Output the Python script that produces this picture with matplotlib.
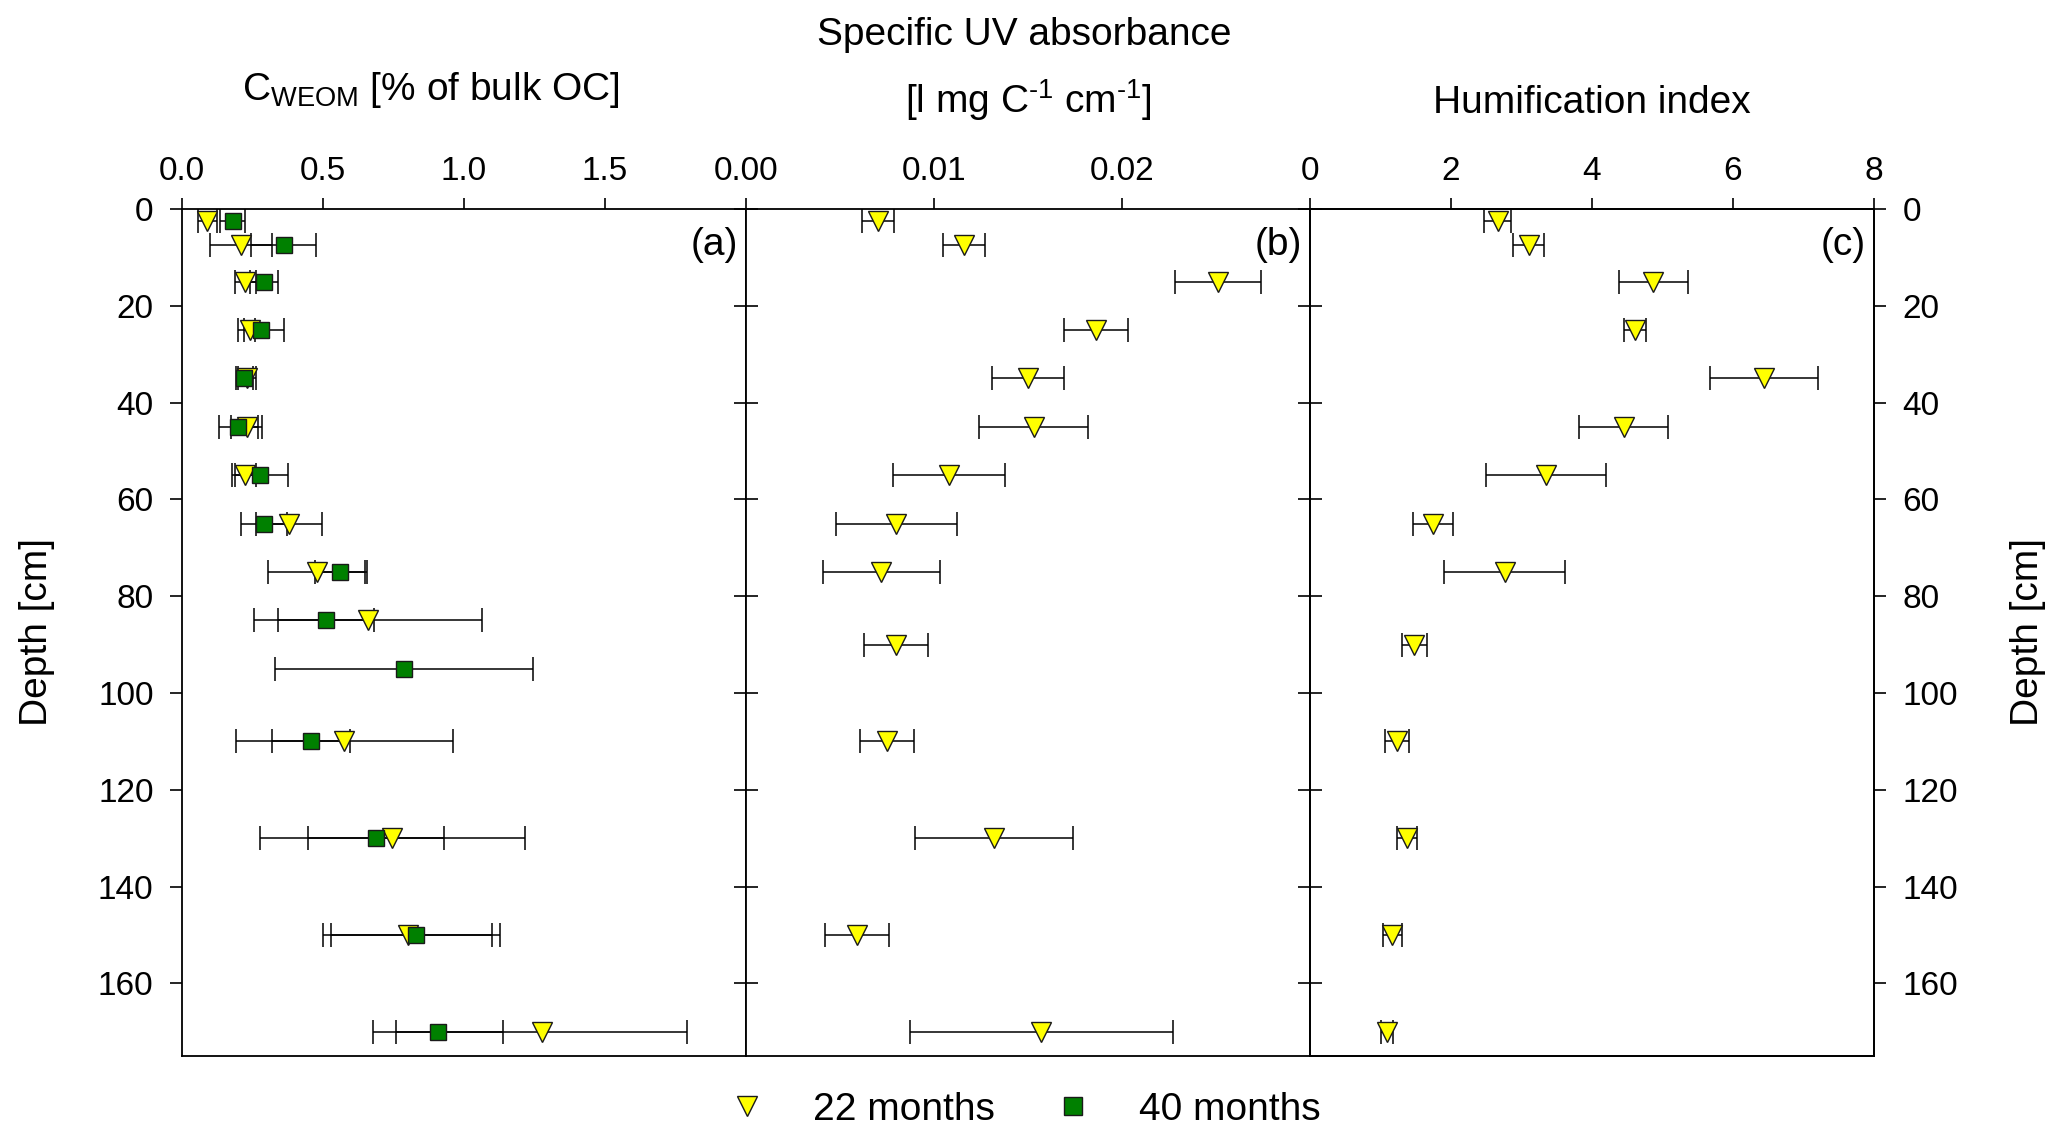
import numpy as np
import matplotlib
matplotlib.use('Agg')
import matplotlib.pyplot as plt
from matplotlib.lines import Line2D

plt.rcParams['font.family'] = ['Liberation Sans', 'DejaVu Sans']
plt.rcParams['mathtext.fontset'] = 'custom'
plt.rcParams['mathtext.rm'] = 'Liberation Sans'
plt.rcParams['mathtext.it'] = 'Liberation Sans:italic'
plt.rcParams['mathtext.bf'] = 'Liberation Sans:bold'

# ---- panel (a): C_WEOM [% of bulk OC]
weom22_depth = [2.5, 7.5, 15, 25, 35, 45, 55, 65, 75, 85, 110, 130, 150, 170]
weom22_mean = [0.09, 0.21, 0.225, 0.24, 0.23, 0.23, 0.225, 0.38, 0.48, 0.66, 0.575, 0.745, 0.80, 1.275]
weom22_err = [0.035, 0.11, 0.036, 0.02, 0.033, 0.055, 0.036, 0.116, 0.175, 0.405, 0.385, 0.47, 0.30, 0.515]

weom40_depth = [2.5, 7.5, 15, 25, 35, 45, 55, 65, 75, 85, 95, 110, 130, 150, 170]
weom40_mean = [0.18, 0.36, 0.29, 0.28, 0.22, 0.20, 0.277, 0.29, 0.56, 0.51, 0.787, 0.457, 0.688, 0.829, 0.908]
weom40_err = [0.045, 0.115, 0.05, 0.08, 0.03, 0.07, 0.10, 0.082, 0.09, 0.17, 0.458, 0.139, 0.24, 0.30, 0.23]

# ---- panels (b) and (c): 22 months only
bc_depth = [2.5, 7.5, 15, 25, 35, 45, 55, 65, 75, 90, 110, 130, 150, 170]
suva_mean = [0.0070, 0.0116, 0.0251, 0.0186, 0.0150, 0.0153, 0.0108, 0.0080, 0.0072, 0.0080,
             0.0075, 0.0132, 0.0059, 0.0157]
suva_err = [0.00085, 0.00113, 0.0023, 0.0017, 0.0019, 0.0029, 0.0030, 0.0032, 0.0031, 0.0017,
            0.00146, 0.0042, 0.0017, 0.0070]
hix_mean = [2.66, 3.10, 4.87, 4.61, 6.44, 4.45, 3.35, 1.74, 2.76, 1.48, 1.23, 1.38, 1.17, 1.09]
hix_err = [0.19, 0.22, 0.49, 0.16, 0.76, 0.63, 0.85, 0.285, 0.86, 0.18, 0.17, 0.14, 0.14, 0.09]

depth_ticks = list(range(0, 161, 20))

W, H = 2067, 1137
fig = plt.figure(figsize=(W / 100, H / 100), dpi=100)

ax_left = [182, 746, 1310]
ax_w = 564
ax_top, ax_bot = 209, 1056

TICK_FS = 24
LABEL_FS = 28
YELLOW = '#ffff00'
GREEN = '#008000'


def fx(x):
    return x / W


def fy(y):
    return 1 - y / H


def make_axis(i, xlim, xticks, xlabels, panel):
    ax = fig.add_axes([fx(ax_left[i]), fy(ax_bot), ax_w / W, (ax_bot - ax_top) / H])
    ax.set_xlim(*xlim)
    ax.set_ylim(175, 0)
    ax.xaxis.tick_top()
    ax.set_xticks(xticks)
    ax.set_xticklabels(xlabels)
    ax.tick_params(axis='x', direction='out', length=8, width=1.2, pad=8,
                   labelsize=TICK_FS, bottom=False)
    ax.set_yticks(depth_ticks)
    for s in ax.spines.values():
        s.set_linewidth(1.3)
    ax.text(1 - 8 / ax_w, 1 - 36 / (ax_bot - ax_top), panel, transform=ax.transAxes,
            ha='right', va='center', fontsize=LABEL_FS)
    return ax


def draw_series(ax, x, y, err, marker, color, ms, z):
    ax.errorbar(x, y, xerr=err, fmt='none', ecolor='black', elinewidth=1.1,
                capsize=8.6, capthick=1.1, zorder=2)
    ax.plot(x, y, ls='none', marker=marker, ms=ms, mfc=color, mec='#1a1a1a',
            mew=1.0, zorder=z)


# (a)
ax_a = make_axis(0, (0, 2.0), [0, 0.5, 1.0, 1.5], ['0.0', '0.5', '1.0', '1.5'], '(a)')
ax_a.tick_params(axis='y', left=True, right=False, direction='out', length=8.5,
                 width=1.2, pad=12, labelsize=TICK_FS)
draw_series(ax_a, weom22_mean, weom22_depth, weom22_err, 'v', YELLOW, 14.5, 3)
draw_series(ax_a, weom40_mean, weom40_depth, weom40_err, 's', GREEN, 12, 4)

# (b)
ax_b = make_axis(1, (0, 0.03), [0, 0.01, 0.02], ['0.00', '0.01', '0.02'], '(b)')
ax_b.tick_params(axis='y', left=True, right=False, labelleft=False, direction='inout',
                 length=17, width=1.2)
draw_series(ax_b, suva_mean, bc_depth, suva_err, 'v', YELLOW, 14.5, 3)

# (c)
ax_c = make_axis(2, (0, 8), [0, 2, 4, 6, 8], ['0', '2', '4', '6', '8'], '(c)')
ax_c.tick_params(axis='y', left=True, right=False, labelleft=False, direction='inout',
                 length=17, width=1.2)
draw_series(ax_c, hix_mean, bc_depth, hix_err, 'v', YELLOW, 14.5, 3)

ax_r = ax_c.twinx()
ax_r.set_ylim(175, 0)
ax_r.set_yticks(depth_ticks)
ax_r.tick_params(axis='y', direction='out', length=8.5, width=1.2, pad=12,
                 labelsize=TICK_FS)
for s in ax_r.spines.values():
    s.set_linewidth(1.3)

# axis titles
fig.text(fx(431), fy(100), r'C$_{\mathrm{WEOM}}$ [% of bulk OC]', ha='center',
         va='baseline', fontsize=LABEL_FS)
fig.text(fx(1024), fy(45), 'Specific UV absorbance', ha='center', va='baseline',
         fontsize=LABEL_FS)
fig.text(fx(1028), fy(113), '[l mg C$^{\u20101}$ cm$^{\u20101}$]', ha='center',
         va='baseline', fontsize=LABEL_FS)
fig.text(fx(1592), fy(113), 'Humification index', ha='center', va='baseline',
         fontsize=LABEL_FS)
fig.text(fx(37), fy(632), 'Depth [cm]', rotation=90, ha='center', va='center',
         fontsize=LABEL_FS)
fig.text(fx(2028), fy(632), 'Depth [cm]', rotation=90, ha='center', va='center',
         fontsize=LABEL_FS)

# legend
handles = [
    Line2D([], [], ls='none', marker='v', ms=15, mfc=YELLOW, mec='#1a1a1a', mew=1.0),
    Line2D([], [], ls='none', marker='s', ms=13, mfc=GREEN, mec='#1a1a1a', mew=1.0),
]
fig.legend(handles, ['22 months', '40 months'], ncol=2, frameon=False, loc='center',
           bbox_to_anchor=(fx(1024), fy(1110)), fontsize=LABEL_FS, handlelength=1.0,
           handletextpad=1.2, columnspacing=1.5, borderpad=0, borderaxespad=0)

fig.savefig('out.png', dpi=100)
